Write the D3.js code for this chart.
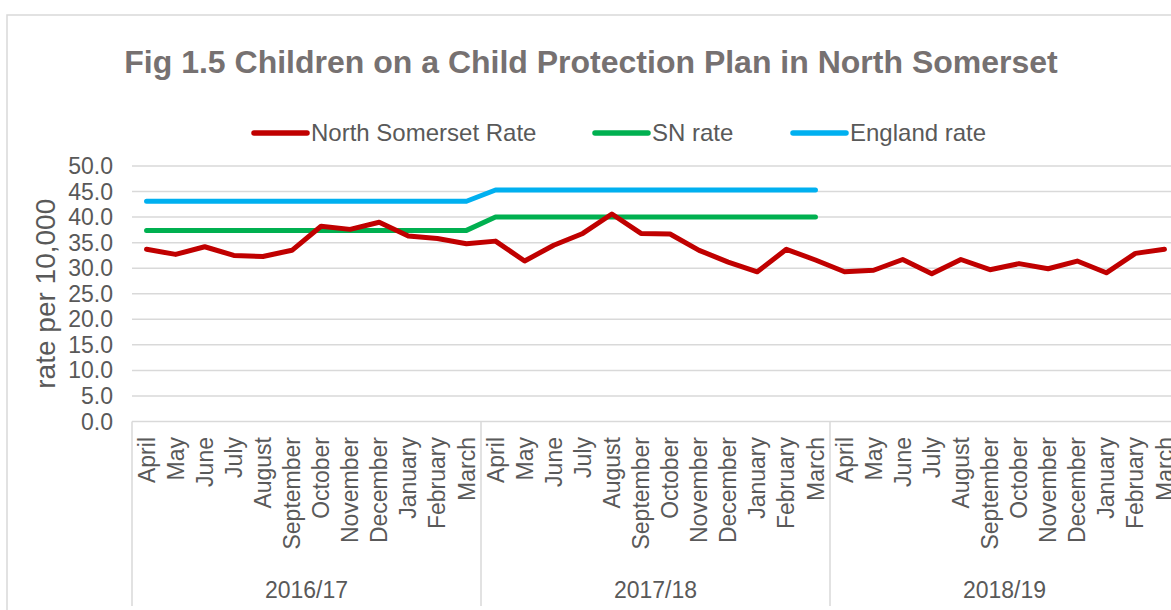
<!DOCTYPE html>
<html lang="en">
<head>
    <meta charset="UTF-8">
    <title>Fig 1.5 Children on a Child Protection Plan in North Somerset</title>
    <style>
        body { margin: 0; background: #fff; }
        svg { display: block; font-family: "Liberation Sans", Arial, sans-serif; }
    </style>
</head>
<body>

<div id="chart-container"></div>

<script src="https://d3js.org/d3.v7.min.js"></script>
<script>
    // Data
    const months = ['April', 'May', 'June', 'July', 'August', 'September', 'October',
        'November', 'December', 'January', 'February', 'March'];
    const years = ['2016/17', '2017/18', '2018/19'];

    const northSomersetRate = [
        33.7, 32.7, 34.2, 32.5, 32.3, 33.5, 38.2, 37.6, 39.0, 36.3, 35.8, 34.8,
        35.3, 31.4, 34.5, 36.8, 40.6, 36.8, 36.7, 33.5, 31.2, 29.3, 33.7, 31.6,
        29.3, 29.6, 31.7, 28.9, 31.7, 29.7, 30.9, 29.9, 31.4, 29.1, 32.9, 33.7
    ];
    const snRate = [
        37.4, 37.4, 37.4, 37.4, 37.4, 37.4, 37.4, 37.4, 37.4, 37.4, 37.4, 37.4,
        40.0, 40.0, 40.0, 40.0, 40.0, 40.0, 40.0, 40.0, 40.0, 40.0, 40.0, 40.0
    ];
    const englandRate = [
        43.1, 43.1, 43.1, 43.1, 43.1, 43.1, 43.1, 43.1, 43.1, 43.1, 43.1, 43.1,
        45.3, 45.3, 45.3, 45.3, 45.3, 45.3, 45.3, 45.3, 45.3, 45.3, 45.3, 45.3
    ];
    const yTicks = [0, 5, 10, 15, 20, 25, 30, 35, 40, 45, 50];

    const series = [
        { name: 'North Somerset Rate', values: northSomersetRate, color: '#C00000' },
        { name: 'SN rate', values: snRate, color: '#00B050' },
        { name: 'England rate', values: englandRate, color: '#00B0F0' }
    ];

    const width = 1171;
    const height = 610;
    const textColor = '#595959';
    const gridColor = '#d9d9d9';

    // every month of every year, keyed by index
    const slots = [];
    years.forEach((y, yi) => months.forEach((m, mi) => slots.push({ key: yi * 12 + mi, month: m, year: y })));

    const svg = d3.select('#chart-container')
        .append('svg')
        .attr('width', width)
        .attr('height', height);

    // outer chart border
    svg.append('rect')
        .attr('x', 7).attr('y', 15)
        .attr('width', width + 20).attr('height', height + 20)
        .attr('fill', 'none')
        .attr('stroke', gridColor)
        .attr('stroke-width', 1.5);

    const x = d3.scaleBand()
        .domain(slots.map(d => d.key))
        .range([132, 1179]);

    const y = d3.scaleLinear()
        .domain([0, 50])
        .range([421.5, 166]);

    // title
    svg.append('text')
        .attr('x', 591).attr('y', 73)
        .attr('text-anchor', 'middle')
        .attr('font-size', 32)
        .attr('font-weight', 'bold')
        .attr('fill', '#767171')
        .text('Fig 1.5 Children on a Child Protection Plan in North Somerset');

    // legend
    const legendX = [254, 595, 793];
    const legend = svg.append('g');
    series.forEach((s, i) => {
        legend.append('line')
            .attr('x1', legendX[i]).attr('x2', legendX[i] + 53)
            .attr('y1', 133).attr('y2', 133)
            .attr('stroke', s.color)
            .attr('stroke-width', 5.5)
            .attr('stroke-linecap', 'round');
        legend.append('text')
            .attr('x', legendX[i] + 57).attr('y', 133)
            .attr('dy', '0.35em')
            .attr('font-size', 24)
            .attr('fill', textColor)
            .text(s.name);
    });

    // gridlines + y labels
    const grid = svg.append('g');
    grid.selectAll('line')
        .data(yTicks)
        .join('line')
        .attr('x1', 132).attr('x2', 1179)
        .attr('y1', d => y(d)).attr('y2', d => y(d))
        .attr('stroke', gridColor)
        .attr('stroke-width', 1.5);

    svg.append('g')
        .selectAll('text')
        .data(yTicks)
        .join('text')
        .attr('x', 113)
        .attr('y', d => y(d))
        .attr('dy', '0.35em')
        .attr('text-anchor', 'end')
        .attr('font-size', 23)
        .attr('fill', textColor)
        .text(d3.format('.1f'));

    // y axis title
    svg.append('text')
        .attr('transform', `translate(55,${(y(0) + y(50)) / 2}) rotate(-90)`)
        .attr('text-anchor', 'middle')
        .attr('font-size', 28)
        .attr('fill', textColor)
        .text('rate per 10,000');

    // month labels
    svg.append('g')
        .selectAll('text')
        .data(slots)
        .join('text')
        .attr('transform', d => `translate(${x(d.key) + x.bandwidth() / 2},437) rotate(-90)`)
        .attr('dy', '0.35em')
        .attr('text-anchor', 'end')
        .attr('font-size', 23)
        .attr('fill', textColor)
        .text(d => d.month);

    // year group separators and labels
    const groupEdges = years.map((yr, i) => x(i * 12));
    groupEdges.push(x.range()[1]);
    svg.append('g')
        .selectAll('line')
        .data(groupEdges)
        .join('line')
        .attr('x1', d => d).attr('x2', d => d)
        .attr('y1', y(0)).attr('y2', 606)
        .attr('stroke', gridColor)
        .attr('stroke-width', 1.5);

    svg.append('g')
        .selectAll('text')
        .data(years)
        .join('text')
        .attr('x', (d, i) => (groupEdges[i] + groupEdges[i + 1]) / 2)
        .attr('y', 598)
        .attr('text-anchor', 'middle')
        .attr('font-size', 23)
        .attr('fill', textColor)
        .text(d => d);

    // lines
    const line = d3.line()
        .x((d, i) => x(i) + x.bandwidth() / 2)
        .y(d => y(d));

    svg.append('g')
        .selectAll('path')
        .data(series.slice().reverse())
        .join('path')
        .attr('d', d => line(d.values))
        .attr('fill', 'none')
        .attr('stroke', d => d.color)
        .attr('stroke-width', 5)
        .attr('stroke-linejoin', 'round')
        .attr('stroke-linecap', 'round');
</script>

</body>
</html>
